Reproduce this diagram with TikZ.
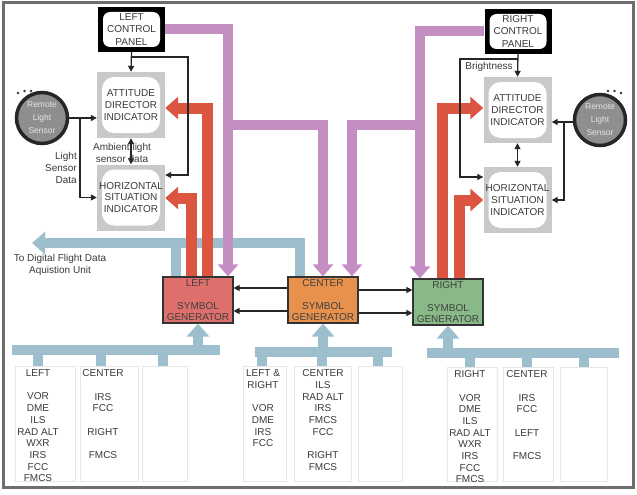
\documentclass[tikz,border=0pt]{standalone}
\usepackage{fontspec}
\setmainfont{Liberation Sans}
\usetikzlibrary{arrows.meta}

\definecolor{txtc}{HTML}{3A3A3A}
\definecolor{framec}{HTML}{6E6E6E}
\definecolor{instgray}{HTML}{C9C9C9}
\definecolor{sensgray}{HTML}{8E8E8E}
\definecolor{redc}{HTML}{DB5541}
\definecolor{purc}{HTML}{C58EC2}
\definecolor{bluec}{HTML}{9DBFCD}
\definecolor{sgleft}{HTML}{DE6F6C}
\definecolor{sgcenter}{HTML}{E8914C}
\definecolor{sgright}{HTML}{88B987}
\definecolor{colline}{HTML}{E6E6E6}

\tikzset{
  lbl/.style={font=\fontsize{10}{11.6}\selectfont, text=txtc, align=center, inner sep=0},
  instr/.style={fill=instgray, minimum width=68pt, minimum height=66pt, inner sep=0,
    font=\fontsize{10}{11.8}\selectfont, text=txtc, align=center,
    path picture={\fill[white, rounded corners=12pt]
      ([shift={(5pt,5pt)}]path picture bounding box.south west) rectangle
      ([shift={(-5pt,-5pt)}]path picture bounding box.north east);}},
  cpanel/.style={fill=black, minimum width=67pt, minimum height=45pt, inner sep=0,
    font=\fontsize{10}{12.5}\selectfont, text=txtc, align=center,
    path picture={\fill[white, rounded corners=7pt]
      ([shift={(5pt,5pt)}]path picture bounding box.south west) rectangle
      ([shift={(-5pt,-5pt)}]path picture bounding box.north east);}},
  symgen/.style={draw=black!80, line width=1.2pt, minimum width=70pt, minimum height=46pt,
    inner sep=0, font=\fontsize{10}{11.5}\selectfont, text=black!75, align=center},
  sensor/.style={circle, draw=black!85, line width=3.5pt, fill=sensgray, minimum size=51pt,
    inner sep=0, font=\fontsize{8.5}{13}\selectfont, text=white!80!gray, align=center},
  conn/.style={draw=black!85, line width=1.3pt, -{Triangle[width=6pt,length=6pt]}},
  bothconn/.style={draw=black!85, line width=1.3pt, {Triangle[width=6pt,length=6pt]}-{Triangle[width=6pt,length=6pt]}},
  redarr/.style={draw=redc, line width=11pt, line join=miter, -{Triangle[width=22pt,length=13pt]}},
  purarr/.style={draw=purc, line width=10pt, line join=miter, -{Triangle[width=20pt,length=12pt]}},
  bluearr/.style={draw=bluec, line width=10pt, line join=miter, -{Triangle[width=22pt,length=13pt]}},
  blueline/.style={draw=bluec, line width=10pt, line join=miter},
  colbox/.style={draw=colline, line width=0.8pt},
  coltext/.style={font=\fontsize{10}{11.7}\selectfont, text=txtc, align=center, inner sep=0, anchor=north},
}

\begin{document}
\begin{tikzpicture}[x=1pt, y=-1pt]
  \useasboundingbox (0,0) rectangle (637,495);
  \fill[white] (0,0) rectangle (637,495);
  \draw[framec, line width=3pt] (3,3) rectangle (633,487);

  % ---------- instruments, panels, sensors ----------
  \node[cpanel] (lcp) at (131.5,29.5) {LEFT\\CONTROL\\PANEL};
  \node[cpanel] (rcp) at (518,31.5) {RIGHT\\CONTROL\\PANEL};

  \node[instr] (ladi) at (131,105) {ATTITUDE\\DIRECTOR\\INDICATOR};
  \node[instr] (lhsi) at (131,197.5) {HORIZONTAL\\SITUATION\\INDICATOR};
  \node[instr] (radi) at (517.5,110) {ATTITUDE\\DIRECTOR\\INDICATOR};
  \node[instr] (rhsi) at (517.5,200) {HORIZONTAL\\SITUATION\\INDICATOR};

  \node[sensor] (lsen) at (42,118) {Remote\\Light\\Sensor};
  \node[sensor] (rsen) at (600,120) {Remote\\Light\\Sensor};
  \foreach \p in {(18,93),(24.5,91),(31,91)} \fill[black!80] \p circle (1.3pt);
  \foreach \p in {(608,91),(614.5,91),(621,93)} \fill[black!80] \p circle (1.3pt);

  % ---------- symbol generators ----------
  \node[symgen, fill=sgleft] (lsg) at (198,300) {LEFT\\[11.5pt]SYMBOL\\GENERATOR};
  \node[symgen, fill=sgcenter] (csg) at (323,300) {CENTER\\[11.5pt]SYMBOL\\GENERATOR};
  \node[symgen, fill=sgright] (rsg) at (448,302) {RIGHT\\[11.5pt]SYMBOL\\GENERATOR};

  % ---------- helper coordinates ----------
  \coordinate (xPL) at (228,0);
  \coordinate (xPC1) at (323,0);
  \coordinate (xPC2) at (352,0);
  \coordinate (xPR) at (420,0);
  \coordinate (yPB) at (0,125);
  \coordinate (xRL1) at (191,0);
  \coordinate (xRL2) at (207,0);
  \coordinate (xRR1) at (442,0);
  \coordinate (xRR2) at (459,0);
  \coordinate (yRA) at (0,108);
  \coordinate (yRHl) at (0,198);
  \coordinate (yRHr) at (0,200);
  \coordinate (xBL) at (176,0);
  \coordinate (xBC) at (300,0);
  \coordinate (dfdau) at (32,243);
  \coordinate (yXL1) at (0,288);
  \coordinate (yXL2) at (0,311);
  \coordinate (yXR1) at (0,290);
  \coordinate (yXR2) at (0,313);

  % ---------- data bus to flight data acquisition unit ----------
  \draw[bluearr] (csg.north -| xBC) |- (dfdau);
  \draw[blueline] (lsg.north -| xBL) -- (xBL |- dfdau);
  \node[lbl] (dfdaulbl) at (60,265) {To Digital Flight Data\\Aquistion Unit};

  % ---------- input buses below the generators ----------
  \coordinate (busL) at (0,350);
  \coordinate (busC) at (0,352);
  \coordinate (busR) at (0,353);
  \draw[blueline] (12,350) -- (220,350);
  \draw[blueline] (255,352) -- (392,352);
  \draw[blueline] (427,353) -- (619,353);
  \foreach \x in {38,101,163} \draw[blueline] (\x,350) -- (\x,366);
  \foreach \x in {262,322,378} \draw[blueline] (\x,352) -- (\x,366);
  \foreach \x in {470,527,584} \draw[blueline] (\x,353) -- (\x,367);
  \draw[bluearr] (lsg.south |- busL) -- (lsg.south);
  \draw[bluearr] (csg.south |- busC) -- (csg.south);
  \draw[bluearr] (rsg.south |- busR) -- (rsg.south);

  % ---------- sensor input columns ----------
  \draw[colbox] (15,366) rectangle (75,481);
  \draw[colbox] (80,366) rectangle (138,481);
  \draw[colbox] (142,366) rectangle (187,481);
  \draw[colbox] (243,366) rectangle (286,481);
  \draw[colbox] (294,366) rectangle (351,481);
  \draw[colbox] (358,366) rectangle (402,481);
  \draw[colbox] (447,367) rectangle (497,481);
  \draw[colbox] (503,367) rectangle (553,481);
  \draw[colbox] (560,367) rectangle (607,481);

  \node[coltext] (cl1) at (38,369.5) {LEFT\\[11.7pt]VOR\\DME\\ILS\\RAD ALT\\WXR\\IRS\\FCC\\FMCS};
  \node[coltext] (cl2) at (103,369.5) {CENTER\\[11.7pt]IRS\\FCC\\[11.7pt]RIGHT\\[11.7pt]FMCS};
  \node[coltext] (cc1) at (263,369.5) {LEFT \&\\RIGHT\\[11.7pt]VOR\\DME\\IRS\\FCC};
  \node[coltext] (cc2) at (323,369.5) {CENTER\\ILS\\RAD ALT\\IRS\\FMCS\\FCC\\[11.7pt]RIGHT\\FMCS};
  \node[coltext] (cr1) at (470,370.5) {RIGHT\\[11.7pt]VOR\\DME\\ILS\\RAD ALT\\WXR\\IRS\\FCC\\FMCS};
  \node[coltext] (cr2) at (527,370.5) {CENTER\\[11.7pt]IRS\\FCC\\[11.7pt]LEFT\\[11.7pt]FMCS};

  % ---------- control panel outputs to the generators ----------
  \draw[purarr] (lcp.east) -| (lsg.north -| xPL);
  \draw[purarr] (xPL |- yPB) -| (csg.north -| xPC1);
  \draw[purarr] (rcp.west) -| (rsg.north -| xPR);
  \draw[purarr] (xPR |- yPB) -| (csg.north -| xPC2);

  % ---------- generator outputs to the displays ----------
  \draw[redarr] (lsg.north -| xRL2) |- (ladi.east |- yRA);
  \draw[redarr] (lsg.north -| xRL1) |- (lhsi.east |- yRHl);
  \draw[redarr] (rsg.north -| xRR1) |- (radi.west |- yRA);
  \draw[redarr] (rsg.north -| xRR2) |- (rhsi.west |- yRHr);

  % ---------- cross-talk between generators ----------
  \draw[conn] (csg.west |- yXL1) -- (lsg.east |- yXL1);
  \draw[conn] (csg.west |- yXL2) -- (lsg.east |- yXL2);
  \draw[conn] (csg.east |- yXR1) -- (rsg.west |- yXR1);
  \draw[conn] (csg.east |- yXR2) -- (rsg.west |- yXR2);

  % ---------- left side control wiring ----------
  \coordinate (lcpt) at (131,57);
  \coordinate (lcpr) at (188,57);
  \draw[conn] (lcp.south) -- (ladi.north);
  \draw[conn] (lcpt) -- (lcpr) |- ([yshift=22.5pt]lhsi.east);
  \draw[bothconn] (ladi.south) -- (lhsi.north);
  \node[lbl] (amb) at (122,153) {Ambient light\\sensor data};

  \coordinate (lbr) at (80,118);
  \draw[conn] (lsen.east) -- (lsen.east -| ladi.west);
  \draw[conn] (lbr) |- (lhsi.west);
  \node[lbl, anchor=east, align=right] (lsd) at (77,168) {Light\\Sensor\\Data};

  % ---------- right side control wiring ----------
  \coordinate (rcpt) at (517.5,59);
  \coordinate (rcpl) at (460,59);
  \draw[conn] (rcp.south) -- (radi.north);
  \draw[conn] (rcpt) -- (rcpl) |- ([yshift=23pt]rhsi.west);
  \draw[bothconn] (radi.south) -- (rhsi.north);
  \node[lbl] (brt) at (489,67) {Brightness};

  \coordinate (rbr) at (564,122);
  \draw[conn] ([yshift=-2pt]rsen.west) -- ([yshift=-2pt]rsen.west -| radi.east);
  \draw[conn] (rbr) |- (rhsi.east);
\end{tikzpicture}
\end{document}
